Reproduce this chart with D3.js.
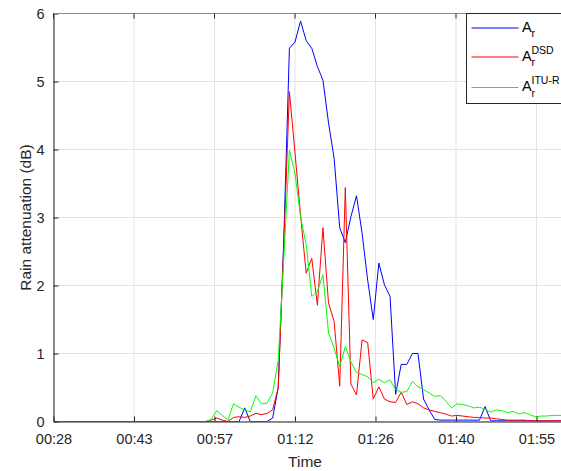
<!DOCTYPE html>
<html>
<head>
<meta charset="utf-8">
<script src="https://cdn.jsdelivr.net/npm/d3@7"></script>
<style>
  body { margin: 0; background: #fff; }
  svg { display: block; font-family: "Liberation Sans", Arial, sans-serif; }
</style>
</head>
<body>
<div class="canva"></div>
<script>
// samples are one minute apart, starting at minute 29 (00:29)
const startMinute = 29;
const arValues = [
  0,0,0,0,0,0,0,0,0,0,0,0,0,0,0,0,0,0,0,0,0,0,0,0,0,0,0,
  0,0,0,0,0,0,0,0.2,0,0,0,0,0.05,0.5,2.7,5.49,5.58,5.89,5.60,5.49,5.22,5.02,
  4.39,3.87,2.85,2.63,3.01,3.32,2.77,2.08,1.50,2.33,2.01,1.84,0.40,0.84,0.84,1.0,
  1.0,0.33,0.17,0.03,0.02,0.02,0.02,0.02,0.02,0.02,0.02,0.02,0.22,
  0.01,0.01,0.01,0.01,0.01,0.01,0.01,0.01,0.01,0.01,0.01,0.01,0.01,0.01,0.01
];
const dsdValues = [
  0,0,0,0,0,0,0,0,0,0,0,0,0,0,0,0,0,0,0,0,0,0,0,0,0,0,0,
  0,0.02,0.05,0.02,0,0.06,0.07,0.06,0.08,0.12,0.10,0.12,0.17,0.5,2.6,4.85,3.95,3.03,
  2.18,2.40,1.71,2.85,1.74,1.47,0.52,3.44,0.55,0.39,1.20,1.16,0.33,0.51,0.33,0.29,
  0.28,0.43,0.25,0.29,0.26,0.20,0.17,0.15,0.13,0.11,0.08,0.09,0.08,0.07,0.06,0.06,
  0.05,0.05,0.04,0.03,0.02,0.02,0.02,0.02,0.01,0.01,0.01,0.01,0.01,0.01,0.01
];
const ituValues = [
  0,0,0,0,0,0,0,0,0,0,0,0,0,0,0,0,0,0,0,0,0,0,0,0,0,0,0,
  0,0.03,0.16,0.09,0.02,0.26,0.21,0.17,0.14,0.38,0.26,0.27,0.42,0.9,2.4,3.99,3.65,3.01,
  2.60,1.84,1.91,2.16,1.30,1.08,0.81,1.10,0.88,0.72,0.69,0.66,0.57,0.62,0.57,0.61,
  0.47,0.43,0.44,0.59,0.51,0.47,0.42,0.37,0.38,0.30,0.20,0.26,0.25,0.23,0.20,0.21,
  0.18,0.14,0.17,0.16,0.13,0.15,0.11,0.13,0.10,0.07,0.08,0.08,0.09,0.09,0.09
];

// ticks every 0.01 day (14.4 min)
const xTickMinutes = [28.8, 43.2, 57.6, 72, 86.4, 100.8, 115.2];
const xTickLabels = ["00:28", "00:43", "00:57", "01:12", "01:26", "01:40", "01:55"];
const yTicks = [0, 1, 2, 3, 4, 5, 6];

const seriesNames = ["Ar", "DSD", "ITU-R"];
const seriesColors = ["#0000ff", "#ff0000", "#00ff00"];

const W = 561, H = 471;
const mLeft = 53.5, mTop = 13.5, mBottom = 421.5, mRight = 617;

const svg = d3.select('.canva').append('svg')
    .attr('width', W)
    .attr('height', H);

const x = d3.scaleLinear().domain([28.8, 129.6]).range([mLeft, mRight]);
const y = d3.scaleLinear().domain([0, 6]).range([mBottom, mTop]);

// grid
svg.append('g').selectAll('line')
  .data(xTickMinutes)
  .join('line')
  .attr('x1', d => x(d)).attr('x2', d => x(d))
  .attr('y1', mTop).attr('y2', mBottom)
  .attr('stroke', '#e3e3e3').attr('stroke-width', 1);
svg.append('g').selectAll('line')
  .data(yTicks)
  .join('line')
  .attr('x1', mLeft).attr('x2', mRight)
  .attr('y1', d => y(d)).attr('y2', d => y(d))
  .attr('stroke', '#e3e3e3').attr('stroke-width', 1);

// lines
svg.append('clipPath').attr('id', 'plotclip')
  .append('rect')
  .attr('x', mLeft).attr('y', mTop - 2)
  .attr('width', mRight - mLeft).attr('height', mBottom - mTop + 2);

const allSeries = [arValues, dsdValues, ituValues];
const line = d3.line()
  .x((d, i) => x(startMinute + i))
  .y(d => y(d));

svg.append('g').attr('clip-path', 'url(#plotclip)')
  .selectAll('path')
  .data(allSeries)
  .join('path')
  .attr('d', d => line(d))
  .attr('fill', 'none')
  .attr('stroke', (d, i) => seriesColors[i])
  .attr('stroke-width', 1)
  .attr('stroke-linejoin', 'round');

// axes
const xAxis = d3.axisBottom(x)
  .tickValues(xTickMinutes)
  .tickFormat((d, i) => xTickLabels[i])
  .tickSizeInner(-5).tickSizeOuter(0).tickPadding(12);
const gx = svg.append('g')
  .attr('transform', `translate(0,${mBottom})`)
  .call(xAxis);
gx.select('.domain').attr('stroke', '#262626');
gx.selectAll('.tick line').attr('stroke', '#262626');
gx.selectAll('.tick text')
  .attr('font-size', 14.5).attr('fill', '#262626')
  .attr('font-family', '"Liberation Sans", Arial, sans-serif');

const yAxis = d3.axisLeft(y)
  .tickValues(yTicks)
  .tickFormat(d3.format('d'))
  .tickSizeInner(-5).tickSizeOuter(0).tickPadding(9);
const gy = svg.append('g')
  .attr('transform', `translate(${mLeft},0)`)
  .call(yAxis);
gy.select('.domain').attr('stroke', '#262626');
gy.selectAll('.tick line').attr('stroke', '#262626');
gy.selectAll('.tick text')
  .attr('font-size', 14.5).attr('fill', '#262626')
  .attr('font-family', '"Liberation Sans", Arial, sans-serif');

// top box edge with inward ticks
svg.append('line')
  .attr('x1', mLeft).attr('x2', mRight)
  .attr('y1', mTop).attr('y2', mTop)
  .attr('stroke', '#8c8c8c').attr('stroke-width', 1.2);
svg.append('g').selectAll('line')
  .data(xTickMinutes)
  .join('line')
  .attr('x1', d => x(d)).attr('x2', d => x(d))
  .attr('y1', mTop).attr('y2', mTop + 5)
  .attr('stroke', '#262626');

// labels
svg.append('text')
  .attr('x', 305).attr('y', 467)
  .attr('text-anchor', 'middle')
  .attr('font-size', 15.5).attr('fill', '#262626')
  .text('Time');
svg.append('text')
  .attr('transform', `translate(31,${(mTop + mBottom) / 2}) rotate(-90)`)
  .attr('text-anchor', 'middle')
  .attr('font-size', 15.5).attr('fill', '#262626')
  .text('Rain attenuation (dB)');

// legend
const lg = svg.append('g');
lg.append('rect')
  .attr('x', 466.5).attr('y', 13.5)
  .attr('width', 120).attr('height', 90)
  .attr('fill', '#fff').attr('stroke', '#262626').attr('stroke-width', 1);

const legendRows = [28, 57, 87.5];
lg.selectAll('line')
  .data(seriesColors)
  .join('line')
  .attr('x1', 471.5).attr('x2', 518.5)
  .attr('y1', (d, i) => legendRows[i]).attr('y2', (d, i) => legendRows[i])
  .attr('stroke', d => d).attr('stroke-width', 1);

seriesNames.forEach((name, i) => {
  const yy = legendRows[i];
  const t = lg.append('g').attr('fill', '#000');
  t.append('text').attr('x', 522).attr('y', yy + 3.5).attr('font-size', 14.5).text('A');
  t.append('text').attr('x', 531.5).attr('y', yy + 9).attr('font-size', 10.5).text('r');
  if (i > 0) {
    t.append('text').attr('x', 531.5).attr('y', yy - 3.5).attr('font-size', 10.5).text(name);
  }
});
</script>
</body>
</html>
